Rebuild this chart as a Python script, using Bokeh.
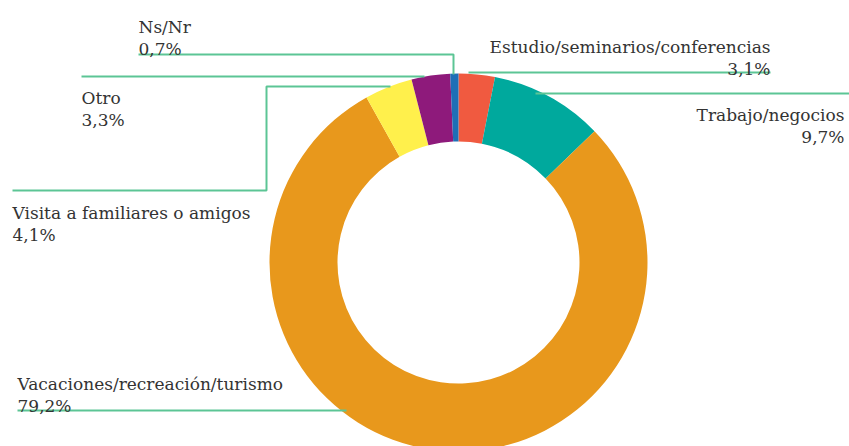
import math
from bokeh.plotting import figure
from bokeh.models import Range1d, ColumnDataSource
from bokeh.core.properties import value
from bokeh.embed import file_html
from bokeh.resources import INLINE

# ---- data (clockwise from 12 o'clock) ----
categories = ["Estudio/seminarios/conferencias", "Trabajo/negocios",
              "Vacaciones/recreación/turismo", "Visita a familiares o amigos",
              "Otro", "Ns/Nr"]
shares = [3.1, 9.7, 79.2, 4.1, 3.3, 0.7]
share_labels = ["3,1%", "9,7%", "79,2%", "4,1%", "3,3%", "0,7%"]
colors = ["#F05A40", "#00A99D", "#E8981C", "#FFF04C", "#8E1A7B", "#1F6FB6"]

# ---- layout (screen px of the chart; data y = H - screen y) ----
W, H = 849, 446
def Y(sy):
    return H - sy

cx, cy = 458, Y(262)
r_out, r_in = 189, 121

total = sum(shares)
starts, ends = [], []
cum = 0.0
for s in shares:
    a0 = math.pi / 2 - 2 * math.pi * cum / total
    cum += s
    a1 = math.pi / 2 - 2 * math.pi * cum / total
    starts.append(a1)
    ends.append(a0)

p = figure(width=W, height=H, output_backend="svg", toolbar_location=None,
           x_range=Range1d(0, W), y_range=Range1d(0, H),
           min_border=0, outline_line_color=None)
p.axis.visible = False
p.grid.visible = False
p.background_fill_color = "white"
p.border_fill_color = "white"

src = ColumnDataSource(dict(cat=categories, start=starts, end=ends, color=colors))
p.annular_wedge(x=cx, y=cy, inner_radius=r_in, outer_radius=r_out,
                start_angle="start", end_angle="end", direction="anticlock",
                fill_color="color", line_color=None, source=src)

LINE = "#5CC595"
# leader lines (screen coords)
leaders = {
    "Ns/Nr": ([138, 453, 453], [54, 54, 74]),
    "Otro": ([81, 424], [76, 76]),
    "Visita a familiares o amigos": ([12, 266, 266, 390], [190, 190, 86, 86]),
    "Estudio/seminarios/conferencias": ([468, 770], [72, 72]),
    "Trabajo/negocios": ([535, 849], [93, 93]),
    "Vacaciones/recreación/turismo": ([17, 346], [410, 410]),
}
for k, (xs, ys) in leaders.items():
    p.line(xs, [Y(v) for v in ys], line_color=LINE, line_width=2)

# label anchors: x, first baseline (screen), align
anchors = {
    "Ns/Nr": (138, 26, "left"),
    "Otro": (81, 97, "left"),
    "Visita a familiares o amigos": (12, 212, "left"),
    "Estudio/seminarios/conferencias": (770, 46, "right"),
    "Trabajo/negocios": (844, 114, "right"),
    "Vacaciones/recreación/turismo": (17, 383, "left"),
}
FONT = value("DejaVu Serif")
for cat, lab in zip(categories, share_labels):
    x, b, al = anchors[cat]
    for t, by in ((cat, b), (lab, b + 22)):
        p.text(x=[x], y=[Y(by)], text=[t], text_font=FONT, text_font_size="17px",
               text_color="#333333", text_align=al, text_baseline="alphabetic")

open("out.html", "w").write(file_html(p, INLINE))
